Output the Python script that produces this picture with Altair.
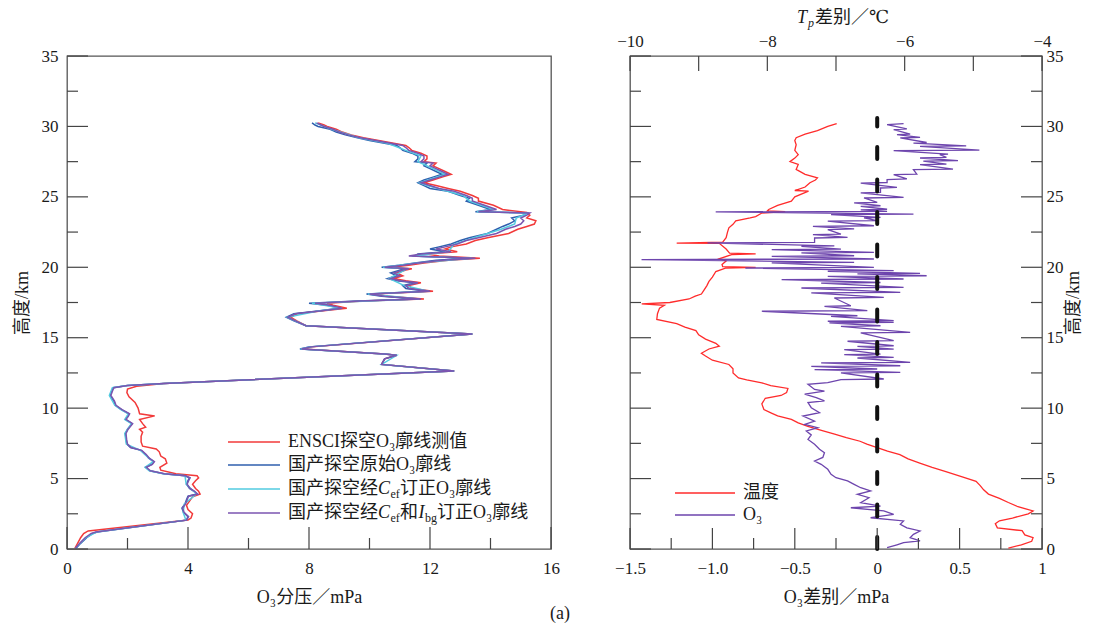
import altair as alt
import pandas as pd

# ---------------- data (altitude km, value) ----------------
RED = [(0.05,0.26),(0.4,0.35),(0.8,0.45),(1.1,0.55),(1.28,0.7),(2.06,4.0),(2.2,4.1),(2.5,4.15),(2.8,4.0),(3.1,3.95),(3.4,4.05),(3.7,4.15),(3.9,4.4),(4.1,4.35),(4.3,4.25),(4.6,4.15),(4.85,4.25),(5.05,4.35),(5.2,4.3),(5.35,3.6),(5.6,3.1),(5.8,3.07),(6.1,3.3),(6.4,3.25),(6.6,3.1),(6.9,3.05),(7.1,2.95),(7.3,2.5),(7.6,2.45),(8.0,2.45),(8.3,2.5),(8.5,2.4),(8.65,2.6),(8.9,2.5),(9.2,2.4),(9.45,2.9),(9.6,2.4),(10.0,2.35),(10.4,2.25),(10.8,2.05),(11.1,1.98),(11.35,2.0),(11.55,2.3),(11.75,3.2),(12.64,12.8),(13.1,10.4),(13.5,10.5),(13.75,10.9),(13.85,10.5),(14.2,7.8),(14.35,8.1),(15.26,13.4),(15.85,7.9),(16.2,7.6),(16.45,7.4),(16.7,7.6),(16.9,8.4),(17.1,9.25),(17.3,8.8),(17.45,8.6),(17.6,9.8),(17.75,11.8),(17.95,10.6),(18.1,10.1),(18.3,12.1),(18.5,11.4),(18.7,11.3),(18.9,11.7),(19.05,11.2),(19.2,10.8),(19.4,11.1),(19.6,10.9),(19.8,11.2),(19.9,11.4),(20.0,10.7),(20.15,11.3),(20.3,11.8),(20.5,12.6),(20.65,13.65),(20.8,12.3),(20.95,11.9),(21.1,12.9),(21.3,12.5),(21.45,12.7),(21.65,13.2),(21.9,13.5),(22.1,13.9),(22.4,14.6),(22.7,14.9),(22.9,15.2),(23.07,15.45),(23.3,15.5),(23.5,15.2),(23.7,15.3),(23.9,15.2),(24.1,14.4),(24.4,14.1),(24.7,13.6),(24.9,13.6),(25.1,13.4),(25.4,13.0),(25.6,12.6),(25.8,12.2),(26.0,11.8),(26.2,12.1),(26.4,12.4),(26.6,12.7),(26.8,12.5),(27.0,12.3),(27.2,12.1),(27.4,12.2),(27.5,11.8),(27.7,11.9),(27.9,11.9),(28.1,11.7),(28.3,11.4),(28.5,11.3),(28.65,11.2),(28.8,10.8),(29.0,10.3),(29.2,9.8),(29.4,9.4),(29.6,9.1),(29.8,8.9),(30.0,8.6),(30.1,8.5),(30.25,8.3)]

BLUE = [(0.05,0.3),(0.4,0.45),(0.8,0.65),(1.1,0.85),(1.2,1.0),(2.05,3.95),(2.3,4.0),(2.6,3.85),(2.9,3.8),(3.2,3.9),(3.5,3.95),(3.75,4.0),(3.9,4.3),(4.1,4.2),(4.3,4.05),(4.6,3.95),(4.85,4.0),(5.05,4.05),(5.2,3.9),(5.35,3.2),(5.55,2.74),(5.8,2.6),(6.0,2.8),(6.2,2.87),(6.45,2.7),(6.7,2.6),(7.0,2.45),(7.2,2.1),(7.45,1.98),(7.8,1.95),(8.2,1.93),(8.5,2.0),(8.9,2.15),(9.2,1.93),(9.4,2.0),(9.6,2.05),(9.9,1.8),(10.2,1.6),(10.5,1.55),(10.9,1.42),(11.2,1.48),(11.45,1.52),(11.6,2.0),(11.75,3.2),(12.64,12.8),(13.1,10.4),(13.5,10.5),(13.75,10.9),(13.85,10.5),(14.2,7.7),(14.35,8.0),(15.26,13.4),(15.85,7.9),(16.2,7.5),(16.45,7.25),(16.7,7.5),(16.9,8.3),(17.1,9.0),(17.3,8.6),(17.45,8.0),(17.6,9.6),(17.75,11.6),(17.95,10.4),(18.1,9.9),(18.3,11.9),(18.5,11.2),(18.7,11.1),(18.9,11.5),(19.05,10.9),(19.2,10.6),(19.4,10.9),(19.6,10.7),(19.8,11.0),(19.9,11.2),(20.0,10.4),(20.15,11.0),(20.3,11.5),(20.5,12.2),(20.65,13.3),(20.8,11.5),(20.95,11.6),(21.1,12.5),(21.3,12.0),(21.45,12.3),(21.65,12.7),(21.9,13.0),(22.1,13.3),(22.4,13.9),(22.7,14.2),(22.9,14.4),(23.07,14.6),(23.3,14.8),(23.5,14.7),(23.7,15.1),(23.85,15.2),(23.95,13.5),(24.1,14.0),(24.4,13.6),(24.7,13.2),(24.9,13.3),(25.1,13.0),(25.4,12.6),(25.6,12.0),(25.8,11.8),(26.0,11.6),(26.2,11.8),(26.4,12.1),(26.6,12.4),(26.8,12.2),(27.0,12.0),(27.2,11.8),(27.4,11.9),(27.5,11.5),(27.7,11.6),(27.9,11.6),(28.1,11.4),(28.3,11.1),(28.5,11.0),(28.65,10.9),(28.8,10.5),(29.0,10.0),(29.2,9.6),(29.4,9.2),(29.6,8.9),(29.8,8.7),(30.0,8.3),(30.1,8.2),(30.25,8.1)]

CYAN = [(0.05,0.28),(0.8,0.62),(1.2,0.97),(2.05,3.93),(2.6,3.84),(3.2,3.88),(3.9,4.28),(4.6,3.94),(5.2,3.9),(5.35,3.18),(5.55,2.72),(5.8,2.58),(6.2,2.85),(6.7,2.58),(7.0,2.43),(7.45,1.96),(8.2,1.91),(8.9,2.13),(9.2,1.91),(9.6,2.03),(9.9,1.78),(10.2,1.58),(10.9,1.4),(11.45,1.5),(11.6,2.0),(11.75,3.2),(12.64,12.8),(13.1,10.4),(13.75,10.9),(13.85,10.5),(14.2,7.72),(14.35,8.02),(15.26,13.4),(15.85,7.9),(16.45,7.28),(16.9,8.3),(17.1,9.05),(17.45,8.1),(17.75,11.65),(18.1,9.95),(18.3,11.95),(18.7,11.15),(19.2,10.65),(19.9,11.25),(20.0,10.45),(20.3,11.55),(20.65,13.4),(20.8,11.4),(21.1,12.6),(21.65,12.8),(22.1,13.45),(22.7,14.35),(23.07,14.8),(23.5,14.85),(23.85,15.25),(23.95,13.55),(24.1,14.1),(24.7,13.3),(25.1,13.1),(25.8,11.9),(26.0,11.65),(26.6,12.5),(27.0,12.1),(27.5,11.6),(27.9,11.7),(28.3,11.2),(28.8,10.6),(29.2,9.65),(29.8,8.75),(30.25,8.2)]

PURPLE = [(0.05,0.28),(0.4,0.42),(0.8,0.6),(1.1,0.8),(1.2,0.95),(2.05,3.95),(2.3,4.02),(2.6,3.87),(2.9,3.82),(3.2,3.92),(3.5,3.97),(3.75,4.02),(3.9,4.32),(4.1,4.22),(4.3,4.07),(4.6,3.97),(4.85,4.02),(5.05,4.07),(5.2,3.92),(5.35,3.22),(5.55,2.76),(5.8,2.62),(6.0,2.82),(6.2,2.89),(6.45,2.72),(6.7,2.62),(7.0,2.47),(7.2,2.12),(7.45,2.0),(7.8,1.97),(8.2,1.95),(8.5,2.02),(8.9,2.17),(9.2,1.95),(9.4,2.02),(9.6,2.07),(9.9,1.82),(10.2,1.62),(10.5,1.57),(10.9,1.45),(11.2,1.5),(11.45,1.55),(11.6,2.0),(11.75,3.2),(12.64,12.8),(13.1,10.4),(13.5,10.5),(13.75,10.9),(13.85,10.5),(14.2,7.75),(14.35,8.05),(15.26,13.4),(15.85,7.9),(16.2,7.55),(16.45,7.3),(16.7,7.55),(16.9,8.35),(17.1,9.1),(17.3,8.7),(17.45,8.2),(17.6,9.7),(17.75,11.7),(17.95,10.5),(18.1,10.0),(18.3,12.0),(18.5,11.3),(18.7,11.2),(18.9,11.6),(19.05,11.0),(19.2,10.7),(19.4,11.0),(19.6,10.8),(19.8,11.1),(19.9,11.3),(20.0,10.5),(20.15,11.1),(20.3,11.6),(20.5,12.4),(20.65,13.5),(20.8,11.3),(20.95,11.7),(21.1,12.7),(21.3,12.2),(21.45,12.5),(21.65,12.9),(21.9,13.2),(22.1,13.6),(22.4,14.2),(22.7,14.5),(22.9,14.8),(23.07,15.0),(23.3,15.1),(23.5,15.0),(23.7,15.2),(23.85,15.3),(23.95,13.6),(24.1,14.2),(24.4,13.8),(24.7,13.4),(24.9,13.4),(25.1,13.2),(25.4,12.8),(25.6,12.3),(25.8,12.0),(26.0,11.7),(26.2,12.0),(26.4,12.3),(26.6,12.6),(26.8,12.4),(27.0,12.2),(27.2,12.0),(27.4,12.1),(27.5,11.7),(27.7,11.8),(27.9,11.8),(28.1,11.6),(28.3,11.3),(28.5,11.2),(28.65,11.1),(28.8,10.7),(29.0,10.2),(29.2,9.7),(29.4,9.3),(29.6,9.0),(29.8,8.8),(30.0,8.5),(30.1,8.4),(30.25,8.25)]

TEMP = [(0.07,-4.49),(0.3,-4.3),(0.55,-4.15),(0.8,-4.13),(1.0,-4.25),(1.3,-4.29),(1.5,-4.65),(1.8,-4.68),(2.0,-4.62),(2.2,-4.43),(2.5,-4.2),(2.7,-4.13),(3.0,-4.35),(3.3,-4.49),(3.6,-4.62),(3.9,-4.78),(4.2,-4.85),(4.5,-4.9),(4.8,-4.96),(5.1,-5.15),(5.5,-5.4),(5.8,-5.6),(6.1,-5.78),(6.4,-5.95),(6.7,-6.07),(6.95,-6.25),(7.2,-6.4),(7.45,-6.55),(7.65,-6.65),(7.9,-6.85),(8.15,-7.02),(8.4,-7.2),(8.7,-7.41),(8.95,-7.55),(9.2,-7.65),(9.45,-7.85),(9.65,-7.94),(9.9,-8.05),(10.3,-8.08),(10.7,-8.03),(10.9,-7.8),(11.1,-7.72),(11.4,-7.7),(11.6,-7.95),(11.8,-8.08),(12.0,-8.3),(12.15,-8.42),(12.5,-8.5),(12.8,-8.5),(13.1,-8.56),(13.4,-8.8),(13.7,-8.9),(13.9,-8.96),(14.2,-8.85),(14.4,-8.7),(14.6,-8.75),(14.9,-8.9),(15.2,-9.0),(15.5,-9.04),(15.75,-9.2),(16.0,-9.32),(16.3,-9.61),(16.7,-9.6),(17.1,-9.57),(17.3,-9.5),(17.4,-9.83),(17.5,-9.42),(17.75,-9.14),(17.95,-9.05),(18.1,-8.96),(18.4,-8.92),(18.7,-8.88),(19.0,-8.85),(19.3,-8.8),(19.7,-8.75),(19.95,-8.6),(20.0,-8.17),(20.05,-8.65),(20.2,-8.66),(20.45,-8.6),(20.6,-8.7),(20.9,-8.52),(20.95,-8.17),(21.0,-8.55),(21.3,-8.6),(21.7,-8.7),(21.72,-9.32),(21.78,-8.65),(22.1,-8.6),(22.5,-8.58),(22.8,-8.56),(23.05,-8.5),(23.3,-8.46),(23.5,-8.25),(23.6,-8.17),(23.85,-8.08),(23.95,-7.74),(24.0,-8.0),(24.1,-7.98),(24.4,-7.85),(24.7,-7.65),(25.0,-7.6),(25.4,-7.4),(25.45,-7.6),(25.7,-7.45),(26.0,-7.38),(26.2,-7.3),(26.35,-7.27),(26.6,-7.45),(26.95,-7.58),(27.3,-7.55),(27.5,-7.67),(27.75,-7.6),(28.0,-7.55),(28.3,-7.6),(28.7,-7.58),(29.0,-7.6),(29.2,-7.58),(29.45,-7.45),(29.7,-7.27),(30.0,-7.12),(30.2,-6.99)]

O3D = [(0.09,0.06),(0.3,0.12),(0.45,0.16),(0.57,0.26),(0.8,0.2),(1.04,0.22),(1.28,0.26),(1.5,0.18),(1.75,0.14),(1.99,0.16),(2.22,-0.04),(2.46,0.10),(2.7,0.04),(2.93,-0.16),(3.05,0.02),(3.29,-0.10),(3.64,-0.05),(3.88,-0.12),(4.12,-0.04),(4.35,-0.10),(4.59,-0.14),(4.83,-0.18),(5.06,-0.25),(5.3,-0.28),(5.66,-0.30),(6.01,-0.34),(6.25,-0.38),(6.5,-0.33),(6.84,-0.32),(7.08,-0.35),(7.43,-0.38),(7.78,-0.42),(8.1,-0.40),(8.38,-0.43),(8.61,-0.36),(8.85,-0.44),(9.08,-0.38),(9.44,-0.45),(9.68,-0.35),(10.03,-0.40),(10.39,-0.42),(10.51,-0.32),(10.74,-0.37),(11.0,-0.44),(11.21,-0.32),(11.33,-0.38),(11.69,-0.42),(11.81,-0.30),
       (12.03,-0.22),(12.07,0.04),(12.5,-0.22),(12.54,0.14),(12.74,-0.38),(12.78,0.0),(12.97,-0.40),(13.01,0.14),(13.21,-0.34),(13.25,0.20),(13.56,-0.12),(13.6,0.10),(13.8,-0.20),(13.84,0.02),(14.15,-0.20),(14.19,0.10),(14.39,-0.12),(14.43,0.10),(14.75,-0.18),(14.79,0.10),(15.34,-0.10),(15.38,0.20),(15.81,-0.22),(15.85,0.02),(16.05,-0.29),(16.09,0.10),(16.17,-0.30),(16.21,0.10),(16.52,-0.28),(16.56,-0.12),(16.88,-0.70),(16.92,-0.06),(17.23,-0.32),(17.27,-0.16),(17.82,-0.26),(17.86,0.04),(18.18,-0.40),(18.22,0.14),(18.53,-0.46),(18.57,0.16),(18.88,-0.34),(18.92,0.02),(19.13,-0.58),(19.17,0.16),(19.36,-0.30),(19.4,0.30),(19.53,-0.12),(19.57,0.26),(19.72,-0.30),(19.76,0.10),(19.95,-0.80),(19.99,-0.02),(20.31,-0.64),(20.35,-0.14),(20.55,-1.43),(20.59,-0.02),(20.78,-0.64),(20.82,-0.14),(21.02,-0.46),(21.06,-0.02),(21.25,-0.64),(21.29,-0.22),(21.48,-0.46),(21.52,-0.26),(21.73,-1.03),(21.77,-0.38),(22.08,-0.38),(22.12,-0.18),(22.32,-0.39),(22.36,-0.22),(22.68,-0.30),(22.72,-0.14),(22.91,-0.39),(22.95,-0.02),(23.27,-0.30),(23.31,0.0),(23.5,-0.08),(23.54,0.02),(23.74,-0.28),(23.78,0.22),(23.93,-0.98),(23.97,0.06),(24.08,-0.10),(24.12,0.06),(24.33,-0.10),(24.37,0.02),(24.57,-0.14),(24.61,0.0),(24.92,-0.08),(24.96,0.16),(25.28,-0.10),(25.32,0.02),(25.63,0.02),(25.67,0.12),(25.98,-0.10),(26.02,0.06),(26.23,0.06),(26.27,0.18),(26.58,0.10),(26.62,0.24),(26.93,0.22),(26.97,0.46),(27.29,0.26),(27.33,0.42),(27.53,0.28),(27.57,0.49),(27.76,0.26),(27.8,0.42),(28.0,0.38),(28.04,0.43),(28.28,0.10),(28.32,0.62),(28.58,0.26),(28.62,0.54),(28.82,0.22),(28.86,0.30),(29.18,0.14),(29.22,0.26),(29.42,0.12),(29.46,0.20),(29.78,0.10),(29.82,0.18),(30.13,0.06),(30.2,0.16)]

ZERO_LINE = [0.0]
ZERO_LINE_TOP = [30.6]

LEFT_X_MAJOR = [0, 4, 8, 12, 16]
LEFT_X_MINOR = [2, 6, 10, 14]
Y_MAJOR = [0, 5, 10, 15, 20, 25, 30, 35]
Y_MINOR = [2.5, 7.5, 12.5, 17.5, 22.5, 27.5, 32.5]
RIGHT_X_MAJOR = [-1.5, -1.0, -0.5, 0, 0.5, 1.0]
RIGHT_X_MINOR = [-1.25, -0.75, -0.25, 0.25, 0.75]
TOP_T_TICKS = [-10, -9, -8, -7, -6, -5, -4]
TOP_T_LABELS = [-10, -8, -6, -4]

LEFT_NAMES = ["ENSCI探空O₃廓线测值", "国产探空原始O₃廓线"]

# ---------------- styling ----------------
FONT = "Liberation Serif, DejaVu Serif, Noto Sans CJK SC"
TXT = "#1a1a1a"
TICK = "#444444"
C_RED, C_BLUE, C_CYAN, C_PURP = "#f23a3a", "#2f5fae", "#52cbe0", "#7b55b0"
C_TRED, C_O3 = "#ff2b2b", "#6d45ad"
W1, W2, H = 484, 412, 493
ONE = pd.DataFrame({"k": [0]})


def prof(pairs, name):
    return pd.DataFrame({"h": [p[0] for p in pairs], name: [p[1] for p in pairs],
                         "i": list(range(len(pairs)))})


ysc = alt.Scale(domain=[0, 35], nice=False, zero=False)
lx = alt.Scale(domain=[0, 16], nice=False, zero=False)
rx = alt.Scale(domain=[-1.5, 1], nice=False, zero=False)
tx = alt.Scale(domain=[-10, -4], nice=False, zero=False)

common_ax = dict(ticks=False, domain=False, grid=False, labelFont=FONT, titleFont=FONT,
                 labelFontSize=17, titleFontSize=18, labelColor=TXT, titleColor=TXT,
                 titleFontWeight="normal", labelFlush=False, labelOverlap=False)

left_yaxis = alt.Axis(values=Y_MAJOR, labelPadding=9, title="高度/km", titlePadding=10, **common_ax)
left_xaxis = alt.Axis(values=LEFT_X_MAJOR, labelPadding=11, title="O₃分压／mPa", titlePadding=12, **common_ax)
right_yaxis = alt.Axis(orient="right", values=Y_MAJOR, labelPadding=4, title="高度/km",
                       titlePadding=19, titleAngle=-90, **common_ax)
right_xaxis = alt.Axis(values=RIGHT_X_MAJOR, labelPadding=11, title="O₃差别／mPa", titlePadding=12,
                       labelExpr="datum.value == 0 ? '0' : (datum.value == 1 ? '1' : replace(format(datum.value, '.1f'), '-', '−'))",
                       **common_ax)
top_axis = alt.Axis(orient="top", values=TOP_T_LABELS, labelPadding=6, title=None,
                    labelExpr="replace(format(datum.value, 'd'), '-', '−')", **common_ax)


def Y(field="h"):
    return alt.Y(f"{field}:Q", scale=ysc, axis=left_yaxis)


def RY(field="h"):
    return alt.Y(f"{field}:Q", scale=ysc, axis=right_yaxis)


def txt(s, x, y, size=18, italic=False, align="left"):
    return alt.Chart(ONE).mark_text(text=s, align=align, baseline="middle", font=FONT, fontSize=size,
                                    fontStyle="italic" if italic else "normal", color=TXT).encode(
        x=alt.value(x), y=alt.value(y))


def seg(color, x1, x2, y):
    return alt.Chart(ONE).mark_rule(color=color, strokeWidth=1.6).encode(
        x=alt.value(x1), x2=alt.value(x2), y=alt.value(y))


# ---------------- left panel ----------------
def left_line(pairs, color):
    return alt.Chart(prof(pairs, "v")).mark_line(color=color, strokeWidth=1.5).encode(
        x=alt.X("v:Q", scale=lx, axis=left_xaxis), y=Y(), order="i:Q")


def lx_ticks(vals, length):
    return alt.Chart(pd.DataFrame({"v": vals})).mark_rule(color=TICK, strokeWidth=1.2).encode(
        x=alt.X("v:Q", scale=lx, axis=left_xaxis), y=alt.value(H), y2=alt.value(H - length))


def ly_ticks(vals, length, yfun, side="left", width=W1):
    x1 = 0 if side == "left" else width
    x2 = length if side == "left" else width - length
    return alt.Chart(pd.DataFrame({"h": vals})).mark_rule(color=TICK, strokeWidth=1.2).encode(
        y=yfun(), x=alt.value(x1), x2=alt.value(x2))


lx0 = 221
rows = [386, 409, 433, 457]
left_layers = [
    left_line(RED, C_RED), left_line(BLUE, C_BLUE), left_line(CYAN, C_CYAN), left_line(PURPLE, C_PURP),
    lx_ticks(LEFT_X_MAJOR, 22), lx_ticks(LEFT_X_MINOR, 11),
    ly_ticks(Y_MAJOR, 21, Y), ly_ticks(Y_MINOR, 11, Y),
    seg(C_RED, 161, 213, rows[0]), seg(C_BLUE, 161, 213, rows[1]),
    seg(C_CYAN, 161, 213, rows[2]), seg(C_PURP, 161, 213, rows[3]),
    txt(LEFT_NAMES[0], lx0, rows[0]),
    txt(LEFT_NAMES[1], lx0, rows[1]),
    txt("国产探空经", lx0, rows[2]), txt("C", lx0 + 90, rows[2], italic=True),
    txt("ef", lx0 + 102.5, rows[2] + 5, size=12), txt("订正O₃廓线", lx0 + 112, rows[2]),
    txt("国产探空经", lx0, rows[3]), txt("C", lx0 + 90, rows[3], italic=True),
    txt("ef", lx0 + 102.5, rows[3] + 5, size=12), txt("和", lx0 + 112, rows[3]),
    txt("I", lx0 + 130.5, rows[3], italic=True), txt("bg", lx0 + 137, rows[3] + 5, size=12),
    txt("订正O₃廓线", lx0 + 149, rows[3]),
    txt("(a)", 493, 558, size=18, align="center"),
]
left = alt.layer(*left_layers).properties(width=W1, height=H)

# ---------------- right panel ----------------
temp_line = alt.Chart(prof(TEMP, "T")).mark_line(color=C_TRED, strokeWidth=1.3).encode(
    x=alt.X("T:Q", scale=tx, axis=top_axis), y=RY(), order="i:Q")
o3_line = alt.Chart(prof(O3D, "v")).mark_line(color=C_O3, strokeWidth=1.3).encode(
    x=alt.X("v:Q", scale=rx, axis=right_xaxis), y=RY(), order="i:Q")
zero_df = pd.DataFrame({"v": ZERO_LINE, "h0": [0.0], "h1": ZERO_LINE_TOP})
zero_line = alt.Chart(zero_df).mark_rule(color="#111111", strokeWidth=4, strokeDash=[12, 20.5],
                                         strokeCap="round").encode(
    x=alt.X("v:Q", scale=rx, axis=None), y=RY("h0"), y2="h1:Q")


def rx_ticks(vals, length, scale, top=False):
    if top:
        yy, yy2 = alt.value(0), alt.value(length)
    else:
        yy, yy2 = alt.value(H), alt.value(H - length)
    return alt.Chart(pd.DataFrame({"v": vals})).mark_rule(color=TICK, strokeWidth=1.2).encode(
        x=alt.X("v:Q", scale=scale, axis=None), y=yy, y2=yy2)


rl = [437, 459]
right_layers = [
    temp_line, o3_line, zero_line,
    rx_ticks(RIGHT_X_MAJOR, 21, rx), rx_ticks(RIGHT_X_MINOR, 11, rx),
    rx_ticks(TOP_T_TICKS, 15, tx, top=True),
    ly_ticks(Y_MAJOR, 21, RY), ly_ticks(Y_MINOR, 11, RY),
    ly_ticks(Y_MAJOR, 21, RY, side="right", width=W2), ly_ticks(Y_MINOR, 11, RY, side="right", width=W2),
    seg(C_TRED, 45, 105, rl[0]), seg(C_O3, 45, 105, rl[1]),
    txt("温度", 113, rl[0]), txt("O₃", 113, rl[1]),
    txt("T", 167, -38, italic=True), txt("p", 178, -33, size=12, italic=True),
    txt("差别／℃", 185, -38),
]
right = alt.layer(*right_layers).resolve_scale(x="independent").properties(width=W2, height=H)

chart = alt.hconcat(left, right, spacing=79, bounds="flush").configure_view(
    stroke="#555555", strokeWidth=1.3).properties(
    padding={"left": 4, "top": 0, "right": 0, "bottom": 0}, background="white")

chart.save("out.html", embed_options={"renderer": "svg", "actions": False})
